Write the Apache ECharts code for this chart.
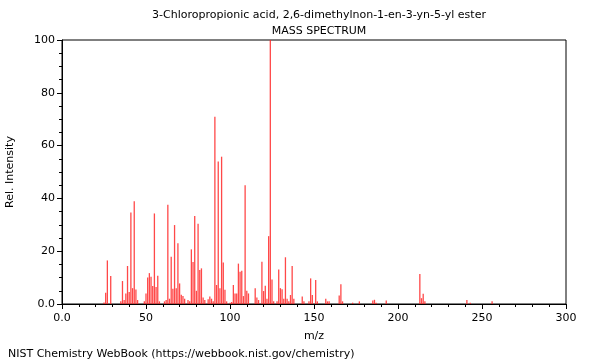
<!DOCTYPE html>
<html><head><meta charset="utf-8">
<script src="https://cdn.jsdelivr.net/npm/echarts@6/dist/echarts.min.js"></script>
<style>html,body{margin:0;padding:0;background:#fff}#c{width:600px;height:360px}</style>
</head><body><div id="c"></div>
<script>
var titleLine1 = "3-Chloropropionic acid, 2,6-dimethylnon-1-en-3-yn-5-yl ester";
var titleLine2 = "MASS SPECTRUM";
var xName = "m/z";
var yName = "Rel. Intensity";
var footer = "NIST Chemistry WebBook (https://webbook.nist.gov/chemistry)";
var mz = [25,26,27,29,35,36,37,38,39,40,41,42,43,44,45,
  49,50,51,52,53,54,55,56,57,58,61,62,63,64,65,66,67,68,69,70,71,72,73,75,76,
  77,78,79,80,81,82,83,84,85,87,88,89,90,91,92,93,94,95,96,97,98,100,101,
  102,103,104,105,106,107,108,109,110,111,115,116,117,119,120,121,122,123,124,125,126,
  128,129,130,131,132,133,134,135,136,137,138,143,144,147,148,149,151,152,
  157,158,159,165,166,167,173,177,185,186,187,193,213,214,215,216,241,243,256];
var intensity = [0.6,4.3,16.5,10.6,1.0,8.7,1.5,4.0,14.4,4.5,34.7,6.0,38.9,5.5,1.5,
  1.0,4.0,10.0,11.7,10.3,6.8,34.3,6.4,10.7,1.0,1.0,1.5,37.6,2.0,17.9,5.8,29.9,6.0,23.0,7.8,3.5,3.0,2.0,1.5,1.0,
  20.7,15.9,33.3,5.0,30.4,12.9,13.5,2.5,1.5,1.8,2.8,2.0,1.0,70.9,7.2,54.0,6.0,55.8,15.7,5.4,1.0,0.5,0.8,
  7.2,4.0,4.0,15.3,12.2,12.6,3.0,45.0,5.0,4.0,6.0,2.5,1.5,16.0,4.9,6.9,2.0,25.7,100,9.3,1.0,
  1.0,13.1,6.0,5.6,2.0,17.7,2.0,1.0,3.4,14.4,2.0,2.8,1.0,1.0,9.7,3.4,9.1,1.0,
  2.0,1.0,1.0,3.2,7.5,1.0,0.5,1.0,1.3,1.6,0.5,1.3,11.4,2.2,3.9,1.0,1.5,0.5,1.0];
var xTicks = [0, 50, 100, 150, 200, 250, 300];
var yTicks = [0, 20, 40, 60, 80, 100];

var data = mz.map(function(m, i){ return [m, intensity[i]]; });
var fmt = function(v){ return v === 0 ? '0.0' : String(v); };
var font = 'DejaVu Sans';
var chart = echarts.init(document.getElementById('c'), null, {renderer:'canvas'});
chart.setOption({
  animation: false,
  backgroundColor: '#fff',
  textStyle: {fontFamily: font},
  title: [
    {text: titleLine1, left: 314, top: 5, textAlign: 'center',
     textStyle: {fontSize: 11, fontWeight: 'normal', color: '#000', fontFamily: font}},
    {text: titleLine2, left: 314, top: 21, textAlign: 'center',
     textStyle: {fontSize: 11, fontWeight: 'normal', color: '#000', fontFamily: font}},
    {text: footer, left: 3, top: 344,
     textStyle: {fontSize: 11, fontWeight: 'normal', color: '#000', fontFamily: font}}
  ],
  grid: {left: 62, right: 34, top: 40, bottom: 56, containLabel: false, outerBoundsMode: 'none',
    show: true, borderColor: '#000', borderWidth: 1, backgroundColor: 'transparent'},
  xAxis: {
    type: 'value', min: xTicks[0], max: xTicks[xTicks.length-1], interval: 50,
    name: xName, nameLocation: 'middle', nameGap: 27,
    nameTextStyle: {fontSize: 11, color: '#000', fontFamily: font},
    axisLine: {show: true, onZero: false, lineStyle: {color: '#000', width: 1}},
    axisTick: {show: true, inside: false, length: 5, lineStyle: {color: '#000'}},
    minorTick: {show: true, splitNumber: 5, length: 3, lineStyle: {color: '#000'}},
    axisLabel: {formatter: fmt, fontSize: 11, color: '#000', margin: 9, fontFamily: font},
    splitLine: {show: false}
  },
  yAxis: {
    type: 'value', min: yTicks[0], max: yTicks[yTicks.length-1], interval: 20,
    name: yName, nameLocation: 'middle', nameGap: 46, nameRotate: 90,
    nameTextStyle: {fontSize: 11, color: '#000', fontFamily: font},
    axisLine: {show: true, lineStyle: {color: '#000', width: 1}},
    axisTick: {show: true, inside: false, length: 5, lineStyle: {color: '#000'}},
    minorTick: {show: true, splitNumber: 4, length: 3, lineStyle: {color: '#000'}},
    axisLabel: {formatter: fmt, fontSize: 11, color: '#000', margin: 7, fontFamily: font},
    splitLine: {show: false}
  },
  series: [{
    type: 'bar', data: data, barWidth: 1.3, barGap: '-100%',
    itemStyle: {color: 'rgba(255,40,40,0.85)'},
    silent: true
  }]
});
</script></body></html>
